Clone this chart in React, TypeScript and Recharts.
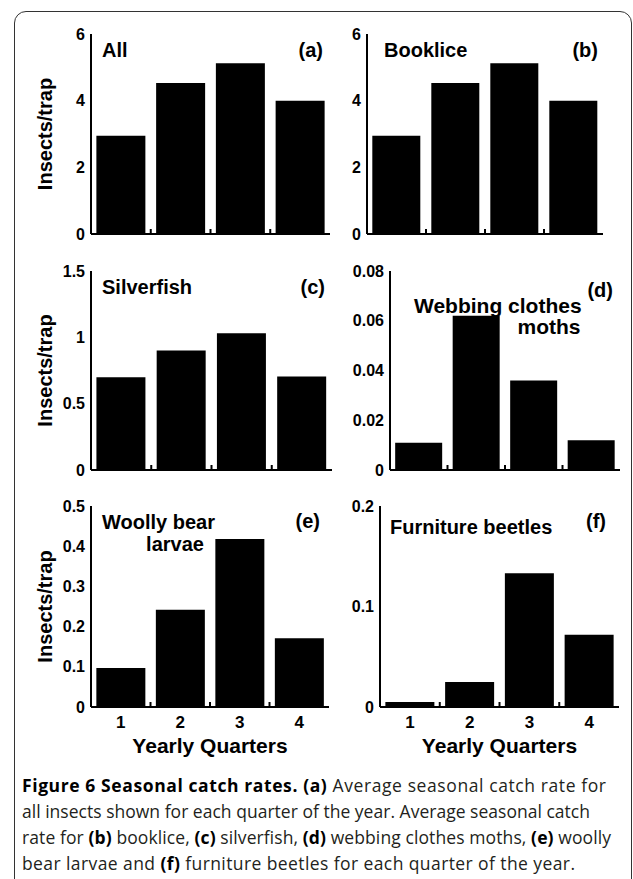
import { Bar, BarChart, XAxis, YAxis } from 'recharts';

const quarters = ['1', '2', '3', '4'];

const allInsects = [2.95, 4.53, 5.12, 4.0];
const booklice = [2.95, 4.53, 5.12, 4.0];
const silverfish = [0.7, 0.9, 1.03, 0.705];
const webbingMoths = [0.011, 0.062, 0.036, 0.012];
const woollyBear = [0.097, 0.242, 0.418, 0.171];
const furnitureBeetles = [0.005, 0.025, 0.133, 0.072];

const ticksAll = [0, 2, 4, 6];
const ticksSilverfish = [0, 0.5, 1, 1.5];
const ticksMoths = [0, 0.02, 0.04, 0.06, 0.08];
const ticksWoolly = [0, 0.1, 0.2, 0.3, 0.4, 0.5];
const ticksBeetles = [0, 0.1, 0.2];

const FONT = '"Liberation Sans", Arial, Helvetica, sans-serif';
const axisStroke = { stroke: '#000', strokeWidth: 2 };

const QuarterTick = (props: any) => {
  const { x, y, payload, index, band, showLabel } = props;
  return (
    <g>
      {index < quarters.length - 1 && (
        <line x1={x + band / 2} x2={x + band / 2} y1={y} y2={y - 5} stroke='#000' strokeWidth={2} />
      )}
      {showLabel && (
        <text x={x} y={y + 21} textAnchor='middle' fontFamily={FONT} fontWeight='bold' fontSize={17} fill='#000'>
          {payload.value}
        </text>
      )}
    </g>
  );
};

type PanelProps = {
  values: number[];
  ticks: number[];
  left: number;
  top: number;
  plotLeft: number;
  plotWidth: number;
  plotHeight: number;
  yLabel?: boolean;
  xLabels?: boolean;
};

const Panel = ({ values, ticks, left, top, plotLeft, plotWidth, plotHeight, yLabel, xLabels }: PanelProps) => {
  const data = quarters.map((q, i) => ({ q, v: values[i] }));
  const axisW = plotLeft - left;
  const bottomH = xLabels ? 60 : 14;
  const band = plotWidth / quarters.length;

  return (
    <div style={{ position: 'absolute', left, top: top - 12, fontFamily: FONT }}>
      <BarChart
        width={axisW + plotWidth + 4}
        height={12 + plotHeight + bottomH}
        data={data}
        margin={{ top: 12, right: 4, bottom: 0, left: 0 }}
        barCategoryGap='9%'
      >
        <XAxis
          dataKey='q'
          interval={0}
          height={bottomH}
          tickLine={false}
          tickSize={0}
          tickMargin={0}
          axisLine={axisStroke}
          tick={<QuarterTick band={band} showLabel={xLabels} />}
          label={
            xLabels
              ? {
                  value: 'Yearly Quarters',
                  position: 'insideBottom',
                  offset: 14,
                  style: { fontSize: 21, fontWeight: 'bold', fill: '#000', fontFamily: FONT },
                }
              : undefined
          }
        />
        <XAxis xAxisId='top' dataKey='q' orientation='top' height={0} tick={false} tickLine={false} axisLine={axisStroke} />
        <YAxis
          domain={[ticks[0], ticks[ticks.length - 1]]}
          ticks={ticks}
          interval={0}
          width={axisW}
          tickLine={false}
          tickSize={0}
          tickMargin={6}
          axisLine={axisStroke}
          tick={{ fill: '#000', fontSize: 16, fontWeight: 'bold', fontFamily: FONT }}
          label={
            yLabel
              ? {
                  value: 'Insects/trap',
                  angle: -90,
                  position: 'insideLeft',
                  offset: 45,
                  style: { textAnchor: 'middle', fontSize: 20, fontWeight: 'bold', fill: '#000', fontFamily: FONT },
                }
              : undefined
          }
        />
        <YAxis yAxisId='right' orientation='right' width={0} tick={false} tickLine={false} axisLine={axisStroke} />
        <Bar dataKey='v' fill='#000' isAnimationActive={false} />
      </BarChart>
    </div>
  );
};

const titleStyle = { fontFamily: FONT, fontWeight: 'bold' as const, fontSize: 20, fill: '#000' };

const B = ({ children }: { children: string }) => (
  <tspan fontWeight={700} fill='#000'>
    {children}
  </tspan>
);

export default function App() {
  return (
    <div style={{ position: 'relative', width: 633, height: 879, overflow: 'hidden', background: '#fff' }}>
      <style>{'body{margin:0;overflow:hidden}'}</style>
      <div
        style={{
          position: 'absolute',
          left: 14,
          top: 11,
          width: 618,
          height: 920,
          border: '1.5px solid #333',
          borderRadius: 12,
          boxSizing: 'border-box',
        }}
      />

      <Panel values={allInsects} ticks={ticksAll} left={0} top={34} plotLeft={91} plotWidth={239} plotHeight={200} yLabel />
      <Panel values={booklice} ticks={ticksAll} left={330} top={34} plotLeft={367} plotWidth={236} plotHeight={200} />
      <Panel values={silverfish} ticks={ticksSilverfish} left={0} top={271} plotLeft={91} plotWidth={241} plotHeight={199} yLabel />
      <Panel values={webbingMoths} ticks={ticksMoths} left={340} top={271} plotLeft={390} plotWidth={230} plotHeight={199} />
      <Panel values={woollyBear} ticks={ticksWoolly} left={0} top={506} plotLeft={91} plotWidth={238} plotHeight={201} yLabel xLabels />
      <Panel values={furnitureBeetles} ticks={ticksBeetles} left={335} top={506} plotLeft={380} plotWidth={239} plotHeight={201} xLabels />

      <svg width={633} height={879} style={{ position: 'absolute', left: 0, top: 0, pointerEvents: 'none' }}>
        <text x={102} y={57} {...titleStyle}>All</text>
        <text x={323} y={57} textAnchor='end' {...titleStyle}>(a)</text>
        <text x={384} y={57} {...titleStyle}>Booklice</text>
        <text x={598} y={57} textAnchor='end' {...titleStyle}>(b)</text>
        <text x={102} y={294} {...titleStyle}>Silverfish</text>
        <text x={325} y={294} textAnchor='end' {...titleStyle}>(c)</text>
        <text x={414} y={313} {...titleStyle} fontSize={21}>Webbing clothes</text>
        <text x={549} y={334} textAnchor='middle' {...titleStyle} fontSize={21}>moths</text>
        <text x={613} y={297} textAnchor='end' {...titleStyle}>(d)</text>
        <text x={102} y={529} {...titleStyle}>Woolly bear</text>
        <text x={175} y={551} textAnchor='middle' {...titleStyle}>larvae</text>
        <text x={320} y={528} textAnchor='end' {...titleStyle}>(e)</text>
        <text x={390} y={534} {...titleStyle}>Furniture beetles</text>
        <text x={606} y={528} textAnchor='end' {...titleStyle}>(f)</text>

        <g fontFamily='"Open Sans", sans-serif' fontSize={17.5} fill='#231f20'>
          <text x={22} y={792} textLength={584} lengthAdjust='spacing'>
            <B>Figure 6 Seasonal catch rates.</B> <B>(a)</B> Average seasonal catch rate for
          </text>
          <text x={22} y={818} textLength={568} lengthAdjust='spacing'>
            all insects shown for each quarter of the year. Average seasonal catch
          </text>
          <text x={22} y={844} textLength={589} lengthAdjust='spacing'>
            rate for <B>(b)</B> booklice, <B>(c)</B> silverfish, <B>(d)</B> webbing clothes moths, <B>(e)</B> woolly
          </text>
          <text x={22} y={870} textLength={553} lengthAdjust='spacing'>
            bear larvae and <B>(f)</B> furniture beetles for each quarter of the year.
          </text>
        </g>
      </svg>
    </div>
  );
}
